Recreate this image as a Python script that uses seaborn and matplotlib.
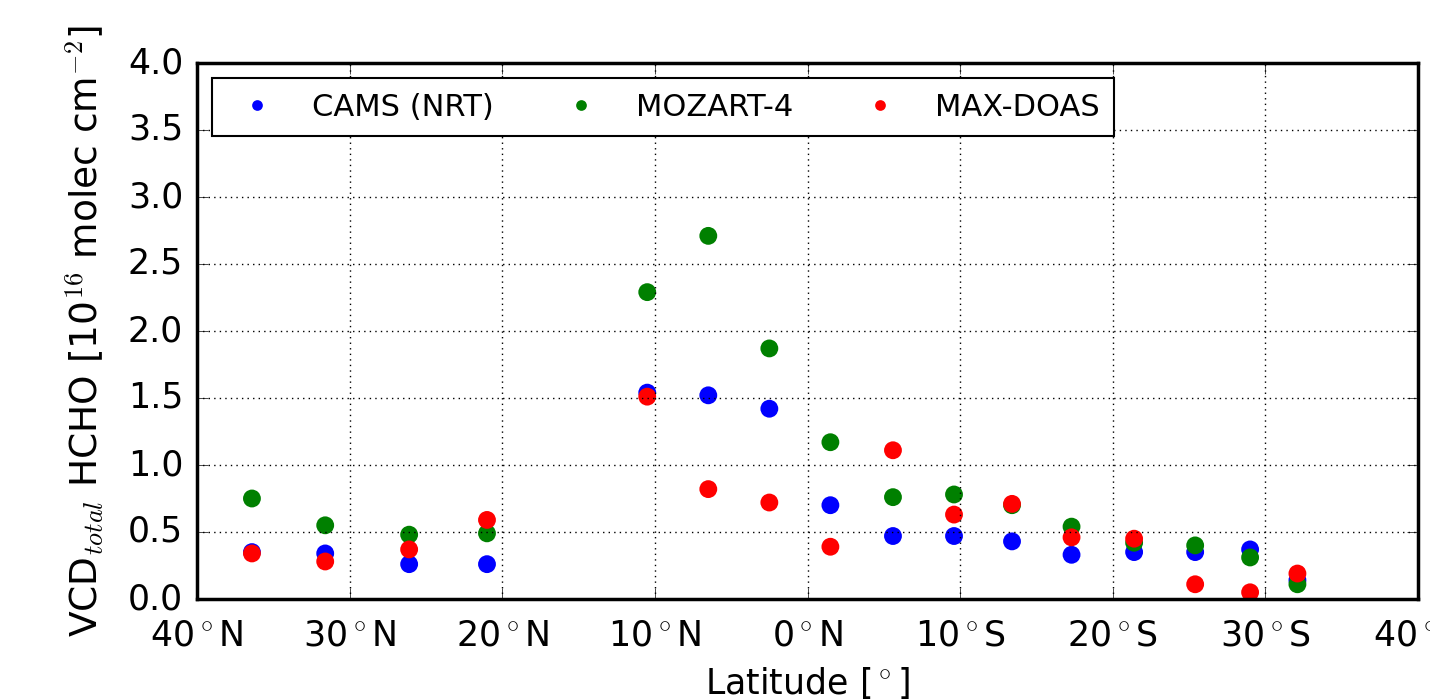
import matplotlib
matplotlib.use("Agg")
import matplotlib.pyplot as plt
import seaborn as sns
import pandas as pd
import numpy as np

# Latitudes (deg, north positive)
latitudes = [36.4, 31.6, 26.1, 21.0, 10.5, 6.5, 2.5, -1.5, -5.6, -9.6,
             -13.4, -17.3, -21.4, -25.4, -29.0, -32.1]
cams = [0.35, 0.34, 0.26, 0.26, 1.54, 1.52, 1.42, 0.70, 0.47, 0.47,
        0.43, 0.33, 0.35, 0.35, 0.37, 0.14]
mozart = [0.75, 0.55, 0.48, 0.49, 2.29, 2.71, 1.87, 1.17, 0.76, 0.78,
          0.70, 0.54, 0.42, 0.40, 0.31, 0.11]
maxdoas = [0.34, 0.28, 0.37, 0.59, 1.51, 0.82, 0.72, 0.39, 1.11, 0.63,
           0.71, 0.46, 0.45, 0.11, 0.05, 0.19]
series_names = ["CAMS (NRT)", "MOZART-4", "MAX-DOAS"]
colors = ["blue", "green", "red"]
xticks = [40, 30, 20, 10, 0, -10, -20, -30, -40]
xticklabels = [r"40$^\circ$N", r"30$^\circ$N", r"20$^\circ$N", r"10$^\circ$N",
               r"0$^\circ$N", r"10$^\circ$S", r"20$^\circ$S", r"30$^\circ$S",
               r"40$^\circ$S"]

frames = []
for name, vals in zip(series_names, [cams, mozart, maxdoas]):
    frames.append(pd.DataFrame({"lat": latitudes, "vcd": vals, "series": name}))
df = pd.concat(frames, ignore_index=True)

plt.style.use("classic")
plt.rcParams["font.family"] = ["DejaVu Sans"]
plt.rcParams["mathtext.fontset"] = "cm"
plt.rcParams["mathtext.default"] = "it"

fig = plt.figure(figsize=(14.3, 7.0), dpi=100)
fig.patch.set_facecolor("white")
ax = fig.add_axes([197 / 1430, 101 / 700, 1221 / 1430, 536 / 700])

sns.scatterplot(data=df, x="lat", y="vcd", hue="series", hue_order=series_names,
                palette=colors, s=165, edgecolor="none", linewidth=0, ax=ax,
                legend=True)

ax.set_xlim(40, -40)
ax.set_ylim(0, 4.0)
ax.set_xticks(xticks)
ax.set_xticklabels(xticklabels)
ax.set_yticks(np.arange(0, 4.01, 0.5))
ax.set_yticklabels([f"{v:.1f}" for v in np.arange(0, 4.01, 0.5)])
ax.tick_params(axis="both", labelsize=25, direction="in", top=True, right=True, length=8)
ax.tick_params(axis="x", pad=14)
ax.tick_params(axis="y", pad=10)
ax.grid(True, linestyle=":", color="black", linewidth=1)
for sp in ax.spines.values():
    sp.set_linewidth(2.5)

ax.set_xlabel(r"Latitude [$^\circ$]", fontsize=25, labelpad=9)
ax.set_ylabel(r"VCD$_{total}$ HCHO [10$^{16}$ molec cm$^{-2}$]", fontsize=27, labelpad=16)

handles, labels = ax.get_legend_handles_labels()
leg = ax.legend(handles, labels, loc="upper left", ncol=3, fontsize=22,
                frameon=True, fancybox=False, scatterpoints=1, numpoints=1,
                markerscale=0.6, handletextpad=0.8, columnspacing=1.85,
                borderaxespad=0.5, borderpad=0.47)
leg.get_frame().set_edgecolor("black")
leg.get_frame().set_linewidth(1.5)

fig.savefig("out.png", dpi=100, facecolor="white")
